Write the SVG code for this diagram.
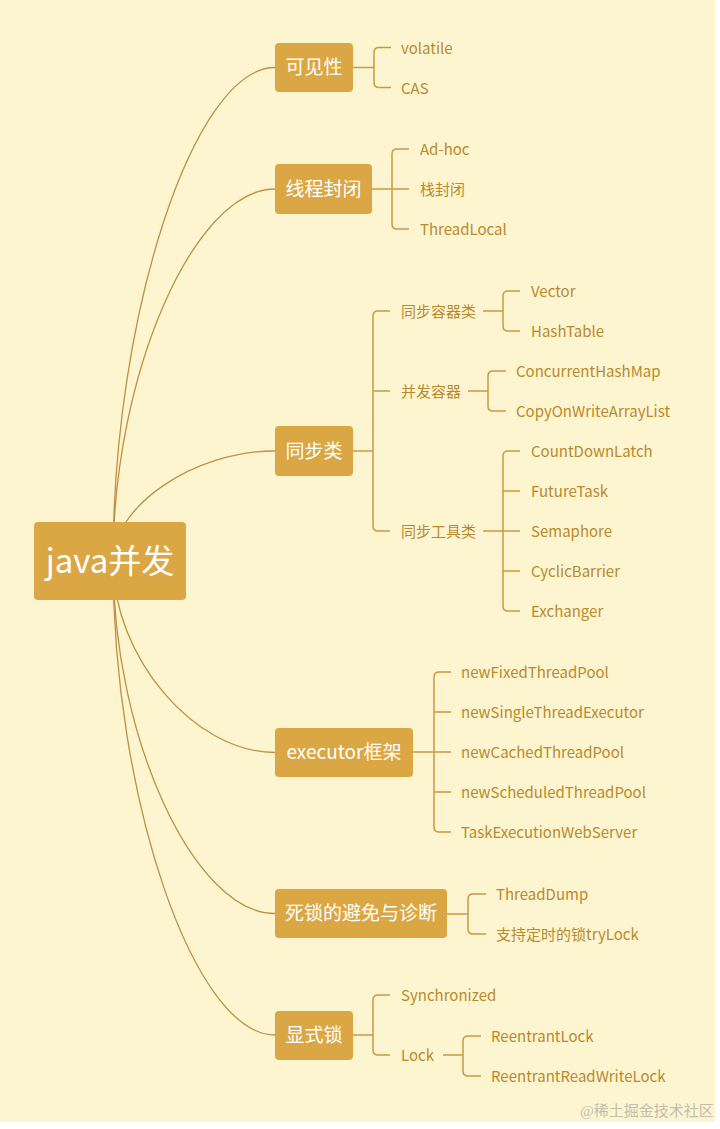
<svg xmlns="http://www.w3.org/2000/svg" width="720" height="1129" viewBox="0 0 720 1129">
<style>
.bg{fill:#FDF5D0}
.node{fill:#DBA744}
.nt{fill:#FFFFFF;font-family:"Noto Sans CJK SC","Noto Sans",sans-serif;font-size:19px;text-anchor:middle}
.rt{fill:#FFFFFF;font-family:"Noto Sans CJK SC","Noto Sans",sans-serif;font-size:33px;text-anchor:middle}
.lt{fill:#B98A2C;font-family:"Noto Sans CJK SC","Noto Sans",sans-serif;font-size:15px}
.ln{fill:none;stroke:#C99A42;stroke-width:1.5}
.cv{fill:none;stroke:#BF9040;stroke-width:1.3}
.wm{fill:#C2BDAF;font-family:"Liberation Serif","Noto Sans CJK SC",serif;font-size:15px}
</style>
<rect x="0" y="0" width="720" height="1129" fill="#FFFFFF"/>
<rect class="bg" x="0" y="0" width="715" height="1122"/>
<g id="connectors">
<path class="cv" d="M113 561 C113 314.5 194 67.5 275 67.5"/>
<path class="cv" d="M113 561 C113 375 194 189 275 189"/>
<path class="cv" d="M113 561 C113 506 194 451 275 451"/>
<path class="cv" d="M113 561 C113 656.5 194 752.5 275 752.5"/>
<path class="cv" d="M113 561 C113 737 194 913.5 275 913.5"/>
<path class="cv" d="M113 561 C113 798 194 1035 275 1035"/>
<path class="ln" d="M353 67.5H374M391 47.5H379Q374 47.5 374 52.5V82.5Q374 87.5 379 87.5H391"/>
<path class="ln" d="M372 189H409M409 149H397Q392 149 392 154V224Q392 229 397 229H409"/>
<path class="ln" d="M353 451H373M390 311H378Q373 311 373 316V526Q373 531 378 531H390M373 391H390"/>
<path class="ln" d="M483 311H503M520 291H508Q503 291 503 296V326Q503 331 508 331H520"/>
<path class="ln" d="M468 391H488M506 371H493Q488 371 488 376V406Q488 411 493 411H506"/>
<path class="ln" d="M483 531H520M520 451H508Q503 451 503 456V606Q503 611 508 611H520M503 491H520M503 571H520"/>
<path class="ln" d="M413 752H451M451 672H439Q434 672 434 677V827Q434 832 439 832H451M434 712H451M434 792H451"/>
<path class="ln" d="M447 914H468M486 894H473Q468 894 468 899V929Q468 934 473 934H486"/>
<path class="ln" d="M353 1035H373M390 995H378Q373 995 373 1000V1050Q373 1055 378 1055H390"/>
<path class="ln" d="M443 1055H463M481 1036H468Q463 1036 463 1041V1071Q463 1076 468 1076H481"/>
</g>
<g id="root">
<rect class="node" x="34" y="522" width="152" height="78" rx="4"/>
<text class="rt" x="110" y="573">java并发</text>
</g>
<g id="n-kejianxing">
<rect class="node" x="275" y="43" width="78" height="49" rx="4"/>
<text class="nt" x="314" y="74">可见性</text>
</g>
<g id="n-volatile"><text class="lt" x="401" y="53.5">volatile</text></g>
<g id="n-cas"><text class="lt" x="401" y="93.5">CAS</text></g>
<g id="n-xianchengfengbi">
<rect class="node" x="275" y="164" width="97" height="50" rx="4"/>
<text class="nt" x="323.5" y="195.5">线程封闭</text>
</g>
<g id="n-adhoc"><text class="lt" x="420" y="155">Ad-hoc</text></g>
<g id="n-zhanfengbi"><text class="lt" x="420" y="195">栈封闭</text></g>
<g id="n-threadlocal"><text class="lt" x="420" y="235">ThreadLocal</text></g>
<g id="n-tongbulei">
<rect class="node" x="275" y="426" width="78" height="50" rx="4"/>
<text class="nt" x="314" y="457.5">同步类</text>
</g>
<g id="n-tongburongqilei"><text class="lt" x="401" y="317">同步容器类</text></g>
<g id="n-vector"><text class="lt" x="531" y="297">Vector</text></g>
<g id="n-hashtable"><text class="lt" x="531" y="337">HashTable</text></g>
<g id="n-bingfarongqi"><text class="lt" x="401" y="397">并发容器</text></g>
<g id="n-chm"><text class="lt" x="516" y="377">ConcurrentHashMap</text></g>
<g id="n-cowal"><text class="lt" x="516" y="417">CopyOnWriteArrayList</text></g>
<g id="n-tongbugongjulei"><text class="lt" x="401" y="537">同步工具类</text></g>
<g id="n-cdl"><text class="lt" x="531" y="457">CountDownLatch</text></g>
<g id="n-ft"><text class="lt" x="531" y="497">FutureTask</text></g>
<g id="n-sem"><text class="lt" x="531" y="537">Semaphore</text></g>
<g id="n-cb"><text class="lt" x="531" y="577">CyclicBarrier</text></g>
<g id="n-ex"><text class="lt" x="531" y="617">Exchanger</text></g>
<g id="n-executor">
<rect class="node" x="275" y="728" width="138" height="49" rx="4"/>
<text class="nt" x="344" y="759">executor框架</text>
</g>
<g id="n-nftp"><text class="lt" x="461" y="678">newFixedThreadPool</text></g>
<g id="n-nste"><text class="lt" x="461" y="718">newSingleThreadExecutor</text></g>
<g id="n-nctp"><text class="lt" x="461" y="758">newCachedThreadPool</text></g>
<g id="n-nschtp"><text class="lt" x="461" y="798">newScheduledThreadPool</text></g>
<g id="n-tews"><text class="lt" x="461" y="838">TaskExecutionWebServer</text></g>
<g id="n-sisuo">
<rect class="node" x="275" y="889" width="172" height="49" rx="4"/>
<text class="nt" x="361" y="920">死锁的避免与诊断</text>
</g>
<g id="n-threaddump"><text class="lt" x="496" y="900">ThreadDump</text></g>
<g id="n-trylock"><text class="lt" x="496" y="940">支持定时的锁tryLock</text></g>
<g id="n-xianshisuo">
<rect class="node" x="275" y="1011" width="78" height="49" rx="4"/>
<text class="nt" x="314" y="1042">显式锁</text>
</g>
<g id="n-synchronized"><text class="lt" x="401" y="1001">Synchronized</text></g>
<g id="n-lock"><text class="lt" x="401" y="1061">Lock</text></g>
<g id="n-reentrantlock"><text class="lt" x="491" y="1042">ReentrantLock</text></g>
<g id="n-rrwl"><text class="lt" x="491" y="1082">ReentrantReadWriteLock</text></g>
<text class="wm" x="580" y="1116">@稀土掘金技术社区</text>
</svg>
